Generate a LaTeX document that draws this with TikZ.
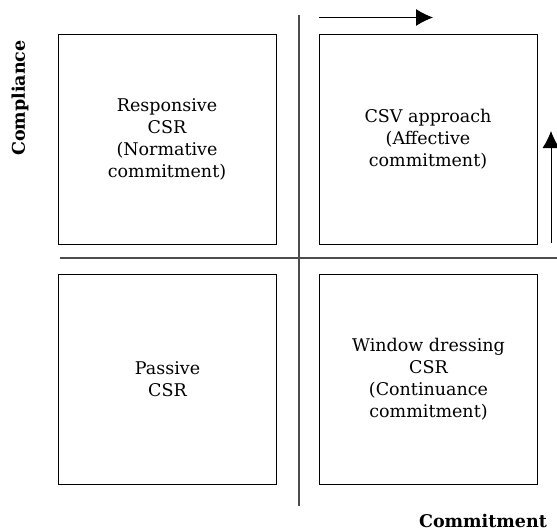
\documentclass[tikz,border=0pt]{standalone}
\usepackage{fontspec}
\setmainfont{DejaVu Serif}
\usepackage{tikz}
\usetikzlibrary{arrows.meta}
\usetikzlibrary{positioning}

\begin{document}
\begin{tikzpicture}
    [
    x=1pt,y=-1pt,
    quad/.style={draw,line width=0.8pt,minimum width=218pt,minimum height=210pt,
      align=center,font=\fontsize{17.5}{22}\selectfont},
    axis/.style={line width=1.3pt,draw=black!70},
    trend/.style={line width=0.9pt,-{Latex[length=17pt,width=17pt]}},
    axlabel/.style={font=\fontsize{17.5}{20}\selectfont\bfseries,inner sep=0pt},
    ]
    \useasboundingbox (0,0) rectangle (557,530);

    \node (resp) at (167,139) [quad] {Responsive\\CSR\\(Normative\\commitment)};
    \node (csv) at (428,139) [quad] {CSV approach\\(Affective\\commitment)};
    \node (pass) at (167.5,379) [quad] {Passive\\CSR};
    \node (wind) at (428.5,379) [quad] {Window dressing\\CSR\\(Continuance\\commitment)};

    \coordinate (vtop) at (299,15);
    \coordinate (vbot) at (299,506);
    \coordinate (hleft) at (60,258);
    \coordinate (hright) at (557,258);
    \draw [axis] (vtop) to (vbot);
    \draw [axis] (hleft) to (hright);

    \coordinate (rstart) at (319,17.5);
    \coordinate (rend) at (433,17.5);
    \coordinate (ustart) at (551,243);
    \coordinate (uend) at (551,131);
    \draw [trend] (rstart) to (rend);
    \draw [trend] (ustart) to (uend);

    \node (comp) at (20,98) [axlabel,rotate=90] {Compliance};
    \node (comm) at (483,527) [axlabel,anchor=base] {Commitment};
  \end{tikzpicture}
\end{document}
